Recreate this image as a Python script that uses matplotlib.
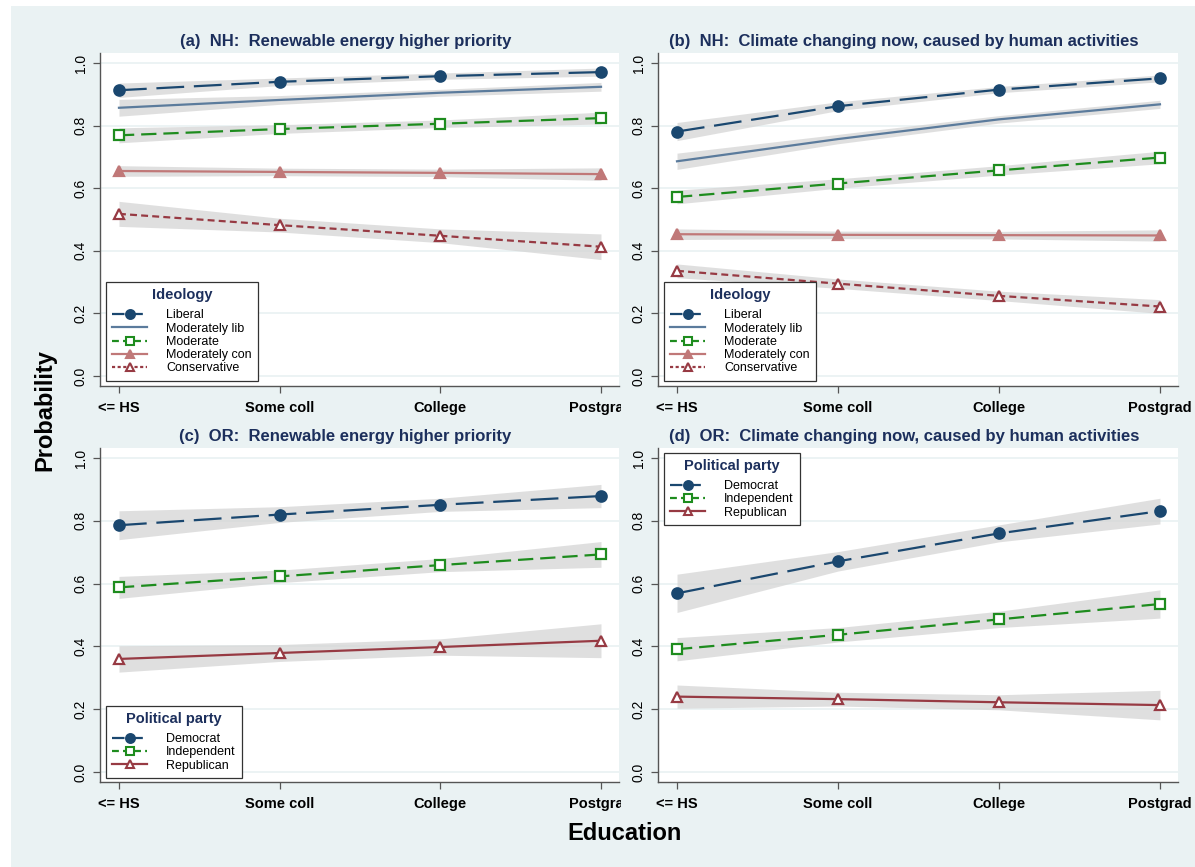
import matplotlib
matplotlib.use("Agg")
import matplotlib.pyplot as plt
from matplotlib.patches import Rectangle
from matplotlib.lines import Line2D
from matplotlib.transforms import Bbox, TransformedBbox
import numpy as np

plt.rcParams['font.family'] = ['Liberation Sans', 'DejaVu Sans']
plt.rcParams['lines.scale_dashes'] = False

W, H = 1195, 867
DPI = 100

education = ["<= HS", "Some coll", "College", "Postgrad"]
yticks = [0.0, 0.2, 0.4, 0.6, 0.8, 1.0]

# Panel (a) NH renewable energy, by ideology
a_liberal = [0.913, 0.940, 0.958, 0.971]
a_liberal_lo = [0.890, 0.928, 0.948, 0.958]
a_liberal_hi = [0.936, 0.952, 0.968, 0.984]
a_modlib = [0.857, 0.882, 0.905, 0.924]
a_modlib_lo = [0.830, 0.868, 0.894, 0.910]
a_modlib_hi = [0.884, 0.896, 0.916, 0.938]
a_moderate = [0.769, 0.789, 0.806, 0.824]
a_moderate_lo = [0.745, 0.775, 0.794, 0.805]
a_moderate_hi = [0.793, 0.803, 0.818, 0.843]
a_modcon = [0.655, 0.652, 0.649, 0.645]
a_modcon_lo = [0.638, 0.640, 0.637, 0.625]
a_modcon_hi = [0.672, 0.664, 0.661, 0.665]
a_cons = [0.518, 0.482, 0.448, 0.413]
a_cons_lo = [0.478, 0.460, 0.426, 0.372]
a_cons_hi = [0.558, 0.504, 0.470, 0.454]

# Panel (b) NH climate change, by ideology
b_liberal = [0.781, 0.862, 0.915, 0.951]
b_liberal_lo = [0.752, 0.848, 0.905, 0.940]
b_liberal_hi = [0.810, 0.876, 0.925, 0.962]
b_modlib = [0.686, 0.757, 0.820, 0.868]
b_modlib_lo = [0.660, 0.742, 0.808, 0.855]
b_modlib_hi = [0.712, 0.772, 0.832, 0.881]
b_moderate = [0.572, 0.615, 0.657, 0.698]
b_moderate_lo = [0.550, 0.600, 0.642, 0.678]
b_moderate_hi = [0.594, 0.630, 0.672, 0.718]
b_modcon = [0.453, 0.451, 0.450, 0.449]
b_modcon_lo = [0.436, 0.439, 0.438, 0.431]
b_modcon_hi = [0.470, 0.463, 0.462, 0.467]
b_cons = [0.336, 0.295, 0.256, 0.222]
b_cons_lo = [0.314, 0.280, 0.241, 0.200]
b_cons_hi = [0.358, 0.310, 0.271, 0.244]

# Panel (c) OR renewable energy, by party
c_dem = [0.786, 0.820, 0.851, 0.879]
c_dem_lo = [0.740, 0.795, 0.830, 0.842]
c_dem_hi = [0.832, 0.845, 0.872, 0.916]
c_ind = [0.588, 0.623, 0.659, 0.693]
c_ind_lo = [0.553, 0.603, 0.638, 0.652]
c_ind_hi = [0.623, 0.643, 0.680, 0.734]
c_rep = [0.360, 0.379, 0.398, 0.418]
c_rep_lo = [0.318, 0.352, 0.372, 0.364]
c_rep_hi = [0.402, 0.406, 0.424, 0.472]

# Panel (d) OR climate change, by party
d_dem = [0.569, 0.671, 0.760, 0.831]
d_dem_lo = [0.508, 0.640, 0.733, 0.790]
d_dem_hi = [0.630, 0.702, 0.787, 0.872]
d_ind = [0.391, 0.437, 0.486, 0.535]
d_ind_lo = [0.354, 0.414, 0.460, 0.490]
d_ind_hi = [0.428, 0.460, 0.512, 0.580]
d_rep = [0.240, 0.232, 0.222, 0.213]
d_rep_lo = [0.203, 0.210, 0.198, 0.166]
d_rep_hi = [0.277, 0.254, 0.246, 0.260]

titles = ["(a)  NH:  Renewable energy higher priority",
          "(b)  NH:  Climate changing now, caused by human activities",
          "(c)  OR:  Renewable energy higher priority",
          "(d)  OR:  Climate changing now, caused by human activities"]

ideology_labels = ["Liberal", "Moderately lib", "Moderate", "Moderately con", "Conservative"]
party_labels = ["Democrat", "Independent", "Republican"]

NAVY = "#1A476F"
STEEL = "#5B7B9C"
GREEN = "#1E8C1E"
PINK = "#C07878"
MAROON = "#973A43"
BG = "#EAF2F3"
TITLE_C = "#1C2F5C"

styles = {
    "Liberal": dict(color=NAVY, dashes=(20, 7), marker='o', mfc=NAVY, ms=7.5),
    "Moderately lib": dict(color=STEEL, dashes=None, marker=None),
    "Moderate": dict(color=GREEN, dashes=(11, 5), marker='s', mfc='white', ms=6.5),
    "Moderately con": dict(color=PINK, dashes=None, marker='^', mfc=PINK, ms=7.5),
    "Conservative": dict(color=MAROON, dashes=(5, 3), marker='^', mfc='white', ms=7.5),
    "Democrat": dict(color=NAVY, dashes=(20, 7), marker='o', mfc=NAVY, ms=7.5),
    "Independent": dict(color=GREEN, dashes=(11, 5), marker='s', mfc='white', ms=6.5),
    "Republican": dict(color=MAROON, dashes=None, marker='^', mfc='white', ms=7.5),
}

panels = [
    [("Liberal", a_liberal, a_liberal_lo, a_liberal_hi),
     ("Moderately lib", a_modlib, a_modlib_lo, a_modlib_hi),
     ("Moderate", a_moderate, a_moderate_lo, a_moderate_hi),
     ("Moderately con", a_modcon, a_modcon_lo, a_modcon_hi),
     ("Conservative", a_cons, a_cons_lo, a_cons_hi)],
    [("Liberal", b_liberal, b_liberal_lo, b_liberal_hi),
     ("Moderately lib", b_modlib, b_modlib_lo, b_modlib_hi),
     ("Moderate", b_moderate, b_moderate_lo, b_moderate_hi),
     ("Moderately con", b_modcon, b_modcon_lo, b_modcon_hi),
     ("Conservative", b_cons, b_cons_lo, b_cons_hi)],
    [("Democrat", c_dem, c_dem_lo, c_dem_hi),
     ("Independent", c_ind, c_ind_lo, c_ind_hi),
     ("Republican", c_rep, c_rep_lo, c_rep_hi)],
    [("Democrat", d_dem, d_dem_lo, d_dem_hi),
     ("Independent", d_ind, d_ind_lo, d_ind_hi),
     ("Republican", d_rep, d_rep_lo, d_rep_hi)],
]

fig = plt.figure(figsize=(W / DPI, H / DPI), dpi=DPI, facecolor='white')
fig.patches.append(Rectangle((11 / W, 0), 1 - 11 / W, 1 - 6 / H, transform=fig.transFigure,
                             facecolor=BG, edgecolor='none', zorder=-10))

def px_rect(x0, y0, x1, y1):
    return [x0 / W, 1 - y1 / H, (x1 - x0) / W, (y1 - y0) / H]

rects = [px_rect(100, 53, 619, 386), px_rect(658, 53, 1178, 386),
         px_rect(100, 448, 619, 782), px_rect(658, 448, 1178, 782)]
clip_right = [621, 1195, 621, 1195]

x = np.arange(len(education))

for i, (rect, series) in enumerate(zip(rects, panels)):
    ax = fig.add_axes(rect)
    ax.set_facecolor('white')
    ax.set_xlim(-0.118, 3.112)
    ax.set_ylim(-0.032, 1.032)
    for yv in yticks:
        ax.axhline(yv, color=BG, lw=1.3, zorder=0)
    handles = []
    for name, vals, lo, hi in series:
        st = styles[name]
        ax.fill_between(x, lo, hi, color='#D5D5D5', alpha=0.75, lw=0, zorder=1)
        kw = dict(color=st['color'], lw=1.6, zorder=3)
        ln, = ax.plot(x, vals, **kw)
        if st['dashes']:
            ln.set_dashes(st['dashes'])
        if st['marker']:
            ax.plot(x, vals, ls='none', marker=st['marker'], ms=st['ms'],
                    mfc=st['mfc'], mec=st['color'], mew=1.6, zorder=4)
        h = Line2D([], [], color=st['color'], lw=1.6, marker=st['marker'],
                   ms=st.get('ms', 7) * 0.85, mfc=st.get('mfc', None), mec=st['color'], mew=1.5)
        if st['dashes']:
            h.set_dashes((st['dashes'][0] * 0.45, st['dashes'][1] * 0.6))
        handles.append(h)
    for s in ['top', 'right']:
        ax.spines[s].set_visible(False)
    for s in ['left', 'bottom']:
        ax.spines[s].set_color('#555555')
        ax.spines[s].set_linewidth(1.0)
    ax.set_yticks(yticks)
    ax.set_yticklabels([f"{v:.1f}" for v in yticks], rotation=90, va='center', fontsize=10)
    ax.set_xticks(x)
    ax.set_xticklabels(education, fontsize=10.5, fontweight='bold')
    ax.tick_params(axis='both', length=5, width=0.9, color='#555555', direction='out')
    ax.tick_params(axis='x', pad=6)
    ax.tick_params(axis='y', pad=4)
    ax.set_title(titles[i], fontsize=12, fontweight='bold', color=TITLE_C, pad=5,
                 x=0.5 - 14 / 519)
    bb = TransformedBbox(Bbox([[0, 0], [clip_right[i] / W, 1]]), fig.transFigure)
    for lab in ax.get_xticklabels():
        lab.set_clip_on(True)
        lab.set_clip_box(bb)

    if i < 2:
        leg_title = "Ideology"
        labels = ideology_labels
        loc = 'lower left'
        anchor = (0.012, 0.016)
    else:
        leg_title = "Political party"
        labels = party_labels
        if i == 2:
            loc = 'lower left'
            anchor = (0.012, 0.012)
        else:
            loc = 'upper left'
            anchor = (0.012, 0.985)
    leg = ax.legend(handles, labels, title=leg_title, loc=loc, bbox_to_anchor=anchor,
                    fontsize=9, title_fontproperties={'weight': 'bold', 'size': 10.5},
                    frameon=True, fancybox=False, edgecolor='#333333', framealpha=1,
                    handlelength=2.8, handletextpad=1.5, labelspacing=0.1,
                    borderpad=0.5, borderaxespad=0)
    leg.get_title().set_color(TITLE_C)
    leg._legend_box.sep = 5
    leg.get_frame().set_linewidth(0.9)
    leg.set_zorder(10)

fig.text(45 / W, 1 - 410 / H, "Probability", rotation=90, ha='center', va='center',
         fontsize=17, fontweight='bold')
fig.text(625 / W, 1 - 833 / H, "Education", ha='center', va='center',
         fontsize=17, fontweight='bold')

fig.savefig("out.png", dpi=DPI, facecolor=fig.get_facecolor())
